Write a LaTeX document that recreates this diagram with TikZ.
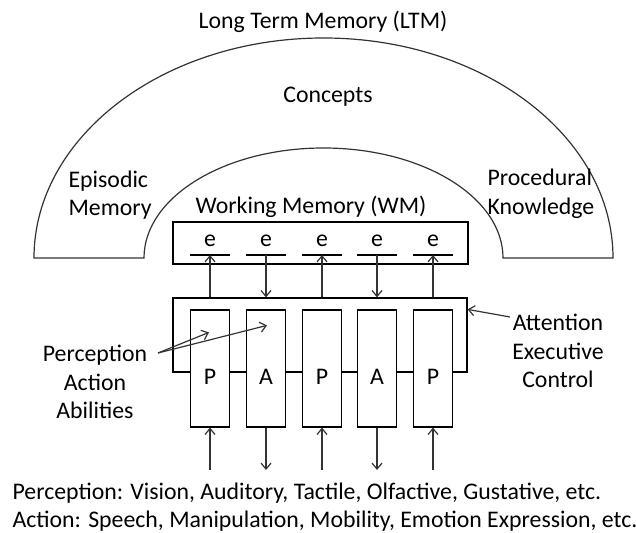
\documentclass[tikz,border=0pt]{standalone}
\usepackage{fontspec}
\setmainfont{Carlito}
\usetikzlibrary{arrows.meta,calc}
\begin{document}
\begin{tikzpicture}[x=0.5pt,y=-0.5pt,line width=0.6pt,
    every node/.style={font=\fontsize{11.9}{14.3}\selectfont},
    >={Straight Barb[length=3pt,width=5pt]},
    pabox/.style={draw,fill=white,inner sep=0pt,minimum width=19.5pt,minimum height=58.5pt},
    membox/.style={draw,inner sep=0pt}]
  \useasboundingbox (0,0) rectangle (636,533);
  % long term memory
  \draw[black!80] (34,258) arc[start angle=180,end angle=360,x radius=289.5,y radius=220]
    -- (503,258) arc[start angle=0,end angle=-180,x radius=179.5,y radius=110] -- cycle;
  \node (ltm) at (323,22) {Long Term Memory (LTM)};
  \node (con) at (328,97) {Concepts};
  \node[align=left,anchor=west,inner sep=0pt] (epi) at (68,195) {Episodic\\Memory};
  \node[align=left,anchor=west,inner sep=0pt] (pro) at (487,194) {Procedural\\Knowledge};
  % working memory
  \node (wml) at (311,207) {Working Memory (WM)};
  \node[membox,minimum width=147.5pt,minimum height=21pt] (wm) at (320.5,243) {};
  \node[membox,minimum width=147pt,minimum height=37pt] (ac) at (320,335) {};
  \foreach \i/\x/\l in {1/210/P,2/266/A,3/322/P,4/377/A,5/433/P}
  {
    \node[inner sep=0pt] (e\i) at (\x,241) {e};
    \coordinate (bar\i) at (\x,255);
    \draw[line width=1pt] ([xshift=-10pt]bar\i) -- ([xshift=10pt]bar\i);
    \node[pabox] (pa\i) at (\x,368.5) {};
    \node[inner sep=0pt] (l\i) at (\x,377) {\l};
    \coordinate (in\i) at (\x,470);
  }
  % perception up, action down
  \foreach \i in {1,3,5}
  {
    \draw[->,black!80] (ac.north -| bar\i) -- (bar\i);
    \draw[->,black!80] (in\i) -- (pa\i.south);
  }
  \foreach \i in {2,4}
  {
    \draw[->,black!80] (bar\i) -- (ac.north -| bar\i);
    \draw[->,black!80] (pa\i.south) -- (in\i);
  }
  % labels with pointers
  \node[align=center] (pab) at (95,382) {Perception\\Action\\Abilities};
  \coordinate (pfrom) at (158,353);
  \draw[->,black!80] (pfrom) -- ($(pa1.north)+(-1,23)$);
  \draw[->,black!80] (pfrom) -- ($(pa2.north)+(1,16)$);
  \node[align=center] (acl) at (558,351) {Attention\\Executive\\Control};
  \coordinate (afrom) at (510,317);
  \draw[->,black!80] (afrom) -- ($(ac.north east)+(0,12)$);
  \node[align=left,anchor=west,inner sep=0pt] (mod) at (12,507)
    {Perception: Vision, Auditory, Tactile, Olfactive, Gustative, etc.\\
     Action: Speech, Manipulation, Mobility, Emotion Expression, etc.};
\end{tikzpicture}
\end{document}
